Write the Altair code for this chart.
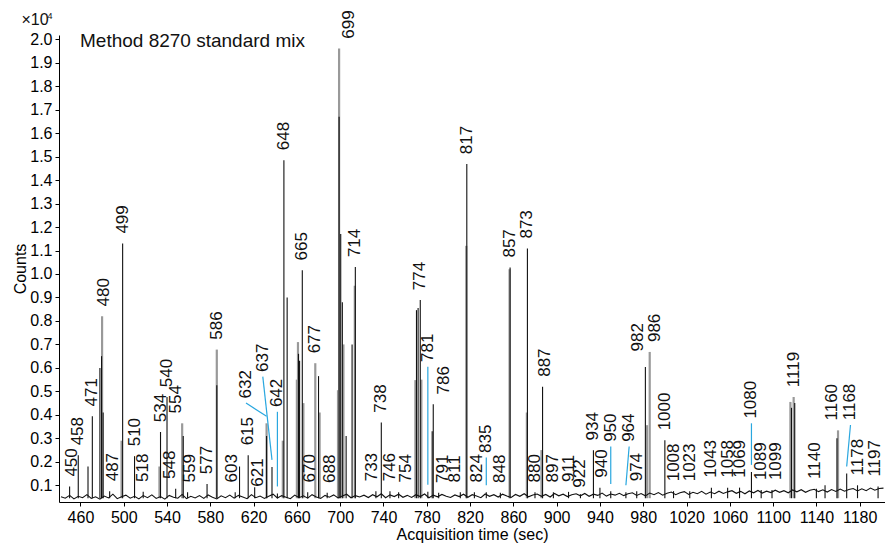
import altair as alt
import pandas as pd

# Annotated compounds: retention time (s) and apex height (counts x 10^4)
peak_time = [450, 458, 471, 480, 487, 499, 510, 518, 534, 540,
             548, 554, 559, 577, 586, 603, 615, 621, 632, 637,
             642, 648, 665, 670, 677, 688, 699, 714, 733, 738,
             746, 754, 774, 781, 786, 791, 811, 817, 824, 835,
             848, 857, 873, 880, 887, 897, 911, 922, 934, 940,
             950, 964, 974, 982, 986, 1000, 1008, 1023, 1043, 1058,
             1069, 1080, 1089, 1099, 1119, 1140, 1160, 1168, 1178, 1197]
peak_height = [0.095, 0.228, 0.394, 0.82, 0.075, 1.13, 0.224, 0.072, 0.327, 0.476,
               0.085, 0.364, 0.07, 0.105, 0.678, 0.07, 0.228, 0.092, 0.364, 0.178,
               0.065, 1.485, 1.016, 0.07, 0.62, 0.068, 1.96, 1.03, 0.075, 0.367,
               0.075, 0.07, 0.889, 0.072, 0.445, 0.068, 0.07, 1.468, 0.07, 0.07,
               0.068, 1.028, 1.109, 0.07, 0.52, 0.07, 0.072, 0.062, 0.249, 0.09,
               0.075, 0.07, 0.075, 0.604, 0.668, 0.292, 0.075, 0.075, 0.09, 0.09,
               0.09, 0.157, 0.08, 0.08, 0.476, 0.085, 0.334, 0.15, 0.10, 0.095]
peak_trace = ["k", "k", "k", "g", "k", "k", "k", "k", "k", "k",
              "k", "g", "k", "k", "g", "k", "k", "k", "g", "k",
              "k", "k", "k", "k", "g", "k", "g", "k", "k", "k",
              "k", "k", "k", "k", "k", "k", "k", "k", "k", "k",
              "k", "k", "k", "k", "k", "k", "k", "k", "k", "k",
              "k", "k", "k", "k", "g", "k", "k", "k", "k", "k",
              "k", "k", "k", "k", "g", "k", "g", "k", "k", "k"]

# Unlabelled co-eluting components and shoulders
shoulder_time = [467, 478, 479.5, 481, 498, 533, 555, 586, 607, 632,
                 647, 651, 660, 661, 661.5, 662.5, 666, 680, 681, 698,
                 699, 700.5, 702, 703, 705.5, 711, 713.5, 769.5, 770.5, 772,
                 775, 785, 816.5, 856.5, 872.5, 886, 983.5, 1116, 1117, 1120,
                 1148, 1159]
shoulder_height = [0.18, 0.60, 0.65, 0.41, 0.29, 0.18, 0.31, 0.526, 0.18, 0.31,
                   0.29, 0.90, 0.55, 0.71, 0.66, 0.63, 0.45, 0.565, 0.41, 0.505,
                   1.67, 1.17, 0.88, 0.70, 0.31, 0.70, 0.95, 0.548, 0.846, 0.855,
                   0.55, 0.33, 1.12, 1.02, 0.41, 0.25, 0.356, 0.455, 0.43, 0.45,
                   0.10, 0.30]
shoulder_trace = ["k", "k", "k", "k", "g", "g", "k", "k", "k", "k",
                  "g", "k", "g", "g", "k", "k", "g", "k", "g", "g",
                  "k", "k", "k", "g", "k", "k", "g", "g", "k", "k",
                  "g", "k", "g", "g", "g", "g", "g", "g", "k", "k",
                  "k", "k"]

# Baseline noise, one reading every 4 s starting at 442 s
baseline_start, baseline_step = 442, 4
baseline_level = [
    0.051, 0.045, 0.057, 0.042, 0.053, 0.047, 0.060, 0.044, 0.051, 0.041,
    0.054, 0.046, 0.062, 0.043, 0.051, 0.058, 0.045, 0.053, 0.042, 0.056,
    0.047, 0.059, 0.044, 0.052, 0.041, 0.057, 0.049, 0.045, 0.061, 0.043,
    0.053, 0.046, 0.056, 0.044, 0.059, 0.049, 0.042, 0.055, 0.047, 0.058,
    0.045, 0.057, 0.050, 0.043, 0.060, 0.047, 0.054, 0.044, 0.053, 0.062,
    0.046, 0.056, 0.049, 0.043, 0.058, 0.047, 0.055, 0.045, 0.060, 0.050,
    0.044, 0.057, 0.049, 0.059, 0.046, 0.054, 0.062, 0.047, 0.056, 0.050,
    0.058, 0.048, 0.060, 0.051, 0.064, 0.047, 0.059, 0.052, 0.062, 0.049,
    0.057, 0.048, 0.060, 0.052, 0.063, 0.047, 0.058, 0.051, 0.061, 0.053,
    0.048, 0.059, 0.052, 0.062, 0.049, 0.060, 0.054, 0.047, 0.063, 0.053,
    0.060, 0.050, 0.062, 0.054, 0.048, 0.061, 0.053, 0.064, 0.051, 0.059,
    0.063, 0.053, 0.061, 0.050, 0.065, 0.055, 0.062, 0.052, 0.060, 0.064,
    0.055, 0.065, 0.053, 0.062, 0.057, 0.067, 0.054, 0.063, 0.058, 0.066,
    0.056, 0.064, 0.068, 0.057, 0.065, 0.055, 0.067, 0.060, 0.069, 0.058,
    0.066, 0.071, 0.060, 0.068, 0.073, 0.061, 0.070, 0.064, 0.074, 0.062,
    0.071, 0.064, 0.075, 0.065, 0.072, 0.077, 0.066, 0.074, 0.064, 0.076,
    0.068, 0.078, 0.067, 0.075, 0.069, 0.079, 0.070, 0.077, 0.068, 0.080,
    0.072, 0.081, 0.070, 0.079, 0.083, 0.073, 0.081, 0.071, 0.082, 0.074,
    0.084, 0.075, 0.082, 0.086, 0.076, 0.085, 0.077, 0.088, 0.079, 0.086,
    0.088,
]

x_ticks = list(range(460, 1181, 40))
y_ticks = [round(0.1 * i, 1) for i in range(1, 21)]

# ---- layout settings ----
FONT = "Liberation Sans"
LABEL_FONT = "Liberation Sans Narrow, Arial Narrow, Liberation Sans"
FOOT = 0.045          # where each peak stroke starts
GAP = 0.042           # space between apex and its label
# horizontal nudges of crowded labels (s)
label_shift = {450: 2, 480: 2, 487: 3, 548: -5, 554: -5.5, 559: 2, 603: -3,
               621: 3, 632: -19, 637: -8.5, 670: 2, 688: 2.5, 699: 9, 733: -4,
               754: 6.5, 786: 10, 791: 4, 811: -5, 824: 2, 887: 2, 940: 2,
               964: 3, 982: -6.5, 986: 5, 1099: 4, 1140: -1.5, 1160: -5.5,
               1168: 3.5, 1197: -2.5}
# labels lifted away from their peak (value of the label's lower end)
label_base = {621: 0.094, 922: 0.09, 982: 0.67,
              632: 0.47, 637: 0.583, 642: 0.433, 781: 0.625, 835: 0.238,
              950: 0.285, 964: 0.285, 1080: 0.384, 1168: 0.377}
leader_ids = [632, 637, 642, 781, 835, 950, 964, 1080, 1168]

peaks = pd.DataFrame({"t": peak_time, "h": peak_height, "trace": peak_trace})
shoulders = pd.DataFrame({"t": shoulder_time, "h": shoulder_height, "trace": shoulder_trace})
traces = pd.concat([peaks, shoulders], ignore_index=True)
traces["foot"] = FOOT

labels = peaks.copy()
labels["label"] = labels["t"].astype(str)
labels["lx"] = labels["t"] + labels["t"].map(label_shift).fillna(0)
labels["ly"] = [label_base.get(t, h + GAP) for t, h in zip(labels["t"], labels["h"])]

leaders = labels[labels["t"].isin(leader_ids)].copy()
leaders["top"] = leaders["ly"] - 0.02
leaders["bottom"] = leaders["h"] + 0.03

baseline = pd.DataFrame({
    "t": [baseline_start + baseline_step * i for i in range(len(baseline_level))],
    "v": baseline_level,
})

xs = alt.Scale(domain=[440.2, 1203.4], nice=False, zero=False)
ys = alt.Scale(domain=[0.0288, 2.018], nice=False, zero=False)

x_axis = alt.Axis(values=x_ticks, format="d", grid=False, tickSize=4,
                  labelFont=FONT, labelFontSize=16, labelColor="black", labelPadding=3.5,
                  labelOverlap=False,
                  domainColor="black", tickColor="black",
                  title="Acquisition time (sec)", titleFont=FONT, titleFontSize=16,
                  titleFontWeight="normal", titleColor="black",
                  titleBaseline="alphabetic", titleY=37)
y_axis = alt.Axis(values=y_ticks, format=".1f", grid=False, tickSize=4, tickCount=20,
                  labelFont=FONT, labelFontSize=16, labelColor="black", labelPadding=3,
                  labelOverlap=False, labelSeparation=0,
                  domainColor="black", tickColor="black",
                  title="Counts", titleFont=FONT, titleFontSize=16,
                  titleFontWeight="normal", titleColor="black",
                  titleBaseline="alphabetic", titleX=-34)

X = alt.X("t:Q", scale=xs, axis=x_axis)


def y_enc(field):
    return alt.Y(field, scale=ys, axis=y_axis)


gray_peaks = alt.Chart(traces).transform_filter("datum.trace == 'g'").mark_rule(
    color="#999999", strokeWidth=2.2
).encode(x=X, y=y_enc("foot:Q"), y2="h:Q")

black_peaks = alt.Chart(traces).transform_filter("datum.trace == 'k'").mark_rule(
    color="#111111", strokeWidth=1.1
).encode(x=X, y=y_enc("foot:Q"), y2="h:Q")

noise = alt.Chart(baseline).mark_line(color="#111111", strokeWidth=1.1).encode(
    x=X, y=y_enc("v:Q")
)

leader_lines = alt.Chart(leaders).mark_rule(color="#2aa7df", strokeWidth=1.2).encode(
    x=alt.X("lx:Q", scale=xs, axis=x_axis), y=y_enc("top:Q"),
    x2="t:Q", y2="bottom:Q",
)

peak_labels = alt.Chart(labels).mark_text(
    angle=270, align="left", baseline="middle",
    font=LABEL_FONT, fontSize=17, color="#111111",
).encode(x=alt.X("lx:Q", scale=xs, axis=x_axis), y=y_enc("ly:Q"), text="label:N")

one_row = alt.Data(values=[{}])
title = alt.Chart(one_row).mark_text(
    text="Method 8270 standard mix", align="left", baseline="alphabetic",
    font=FONT, fontSize=19, color="#111111",
).encode(x=alt.value(21), y=alt.value(12))

scale_note = alt.Chart(one_row).mark_text(
    text="×10", align="left", baseline="alphabetic",
    font=FONT, fontSize=16, color="#111111",
).encode(x=alt.value(-37.5), y=alt.value(-10))
scale_exp = alt.Chart(one_row).mark_text(
    text="4", align="left", baseline="alphabetic",
    font=FONT, fontSize=9, color="#111111",
).encode(x=alt.value(-11.5), y=alt.value(-16))

chart = alt.layer(
    gray_peaks, black_peaks, noise, leader_lines, peak_labels, title, scale_note, scale_exp
).properties(
    width=826, height=467,
    padding={"left": 59, "top": 35, "right": 0, "bottom": 46},
    autosize=alt.AutoSizeParams(type="none"),
    background="white",
).configure_view(stroke=None).configure_axis(labelOverlap=False, labelSeparation=0)

chart.save("out.html", embed_options={"renderer": "svg", "actions": False})
